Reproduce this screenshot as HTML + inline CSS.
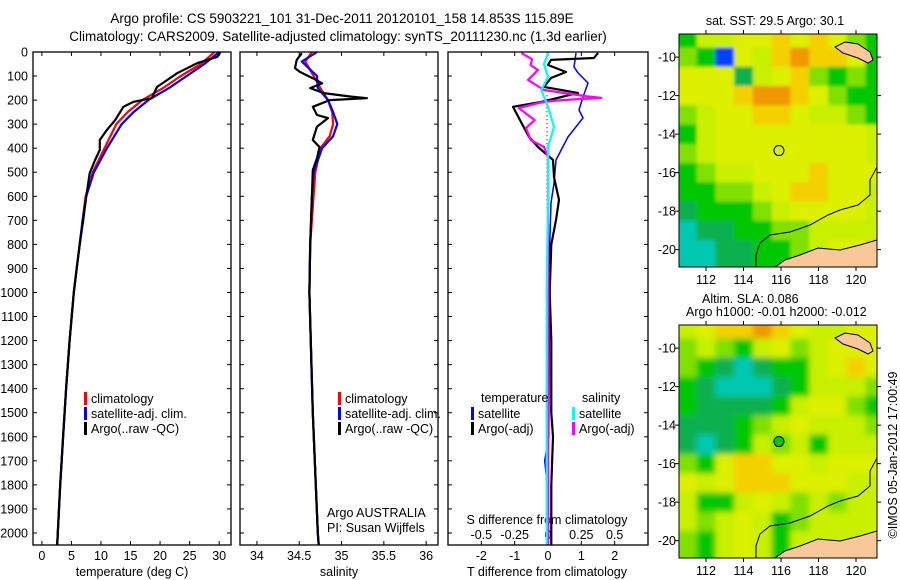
<!DOCTYPE html>
<html><head><meta charset="utf-8"><style>
body{margin:0;background:#fff}
svg{display:block;font-family:"Liberation Sans",sans-serif;font-size:12.5px}
</style></head><body>
<svg id="s" width="900" height="580" viewBox="0 0 900 580">
<defs><filter id="blur" x="-5%" y="-5%" width="110%" height="110%"><feGaussianBlur stdDeviation="3"/></filter>
<filter id="blur2" x="-5%" y="-5%" width="110%" height="110%"><feGaussianBlur stdDeviation="1.5"/></filter></defs>
<text x="342" y="23" text-anchor="middle" font-size="13.5">Argo profile: CS 5903221_101 31-Dec-2011 20120101_158 14.853S 115.89E</text>
<text x="338" y="41" text-anchor="middle" font-size="13.5">Climatology: CARS2009. Satellite-adjusted climatology: synTS_20111230.nc (1.3d earlier)</text>
<text x="775" y="25" text-anchor="middle">sat. SST: 29.5 Argo: 30.1</text>
<text x="702" y="303">Altim. SLA: 0.086</text>
<text x="686" y="316">Argo h1000: -0.01 h2000: -0.012</text>
<text transform="translate(897,455) rotate(-90)" text-anchor="middle">©IMOS 05-Jan-2012 17:00:49</text>
<text x="132" y="576" text-anchor="middle">temperature (deg C)</text>
<text x="339" y="576" text-anchor="middle">salinity</text>
<text x="547" y="576" text-anchor="middle">T difference from climatology</text>
<text x="547" y="524" text-anchor="middle">S difference from climatology</text>
<text x="327" y="517">Argo AUSTRALIA</text>
<text x="327" y="532">PI: Susan Wijffels</text>
</svg>
<script>
// ---------- data ----------
const depthTicks=[0,100,200,300,400,500,600,700,800,900,1000,1100,1200,1300,1400,1500,1600,1700,1800,1900,2000];
const tempTicks=[0,5,10,15,20,25,30];
const salTicks=[34,34.5,35,35.5,36];
const tdiffTicks=[-2,-1,0,1,2];
const sdiffTicks=[-0.5,-0.25,0,0.25,0.5];
const sdiffLabels=["-0.5","-0.25","0","0.25","0.5"];

const argoTD=[0,20,46,88,145,192,207,228,283,324,366,407,449,504,602,700,800,900,1000,1200,1400,1600,1800,2000,2050];
const argoT=[30.2,29.7,26.3,22.9,19.5,18.6,15.5,13.8,12.4,11.0,9.8,9.8,9.0,8.1,7.5,7.0,6.4,5.9,5.4,4.7,4.1,3.6,3.1,2.7,2.6];
const climD=[0,50,100,150,200,250,300,400,500,600,700,800,900,1000,1200,1400,1600,1800,2000,2050];
const climT=[29.2,26.9,23.5,20.5,17,14.5,12.6,10.6,8.6,7.4,6.9,6.4,5.9,5.4,4.7,4.1,3.6,3.1,2.7,2.6];
const satT=[30,27.5,24.5,21.5,18,15.5,13.5,11,8.8,7.5,6.9,6.4,5.9,5.4,4.7,4.1,3.6,3.1,2.7,2.6];

const argoSD=[5,33,67,83,109,130,150,171,185,192,200,228,262,275,310,366,395,442,491,602,800,1000,1500,2000,2050];
const argoS=[34.53,34.47,34.45,34.51,34.66,34.77,34.63,34.79,35.1,35.3,34.86,34.66,34.71,34.84,34.71,34.66,34.74,34.71,34.66,34.65,34.63,34.62,34.66,34.72,34.73];
const salD=[0,40,100,150,200,250,300,350,400,500,600,800,1000,1500,2000,2050];
const climS=[34.65,34.57,34.67,34.75,34.84,34.89,34.9,34.86,34.75,34.69,34.67,34.63,34.62,34.66,34.72,34.73];
const satS=[34.71,34.53,34.71,34.72,34.84,34.9,34.95,34.9,34.77,34.67,34.65,34.63,34.62,34.66,34.72,34.73];

const satTdD=[4,62,87,129,187,241,274,353,449,545,628,800,1200,1600,1700,1800,2050];
const satTd=[0.84,0.78,0.9,1.2,1.05,0.93,1.05,0.6,0.24,0.18,0.09,0.05,0.04,0.02,-0.1,-0.02,0];
const argoTdD=[4,25,33,54,83,108,145,170,208,228,291,353,395,449,520,615,699,800,1000,1200,1500,1600,1800,2050];
const argoTd=[1.5,1.38,0.09,0,0.54,0.09,-0.12,0.9,-0.21,-1.05,-0.81,-0.57,-0.3,0.15,0.18,0.33,0.24,0.1,0.05,0.1,0.1,0.15,0.1,0.1];
const argoSdD=[4,30,55,75,116,158,185,191,200,208,233,283,316,366,395,437,600,1000,2050];
const argoSd=[-0.2,-0.12,-0.13,-0.075,-0.15,-0.03,0.3,0.4,0.1,-0.04,-0.22,-0.1,-0.165,-0.13,-0.03,0,0,0,0];
const satSdD=[4,50,104,158,228,312,395,600,1000,1500,2050];
const satSd=[0,-0.03,0,-0.05,0,0.045,0,0,-0.01,-0.01,-0.01];

const mapLons=[111,112,113,114,115,116,117,118,119,120,121];
const mapLats=[-9,-10,-11,-12,-13,-14,-15,-16,-17,-18,-19,-20,-21];
const sstGrid=[
[5,7,7,8,8,9,8,9,8,6,5],[6,5,1,8,7,9,10,9,9,8,5],[8,8,8,4,7,8,9,6,5,6,5],
[8,8,8,9,10,10,9,8,6,5,5],[6,7,8,8,9,9,8,7,7,6,5],[5,7,8,8,8,8,8,8,8,8,7],
[6,7,8,8,8,8,8,8,8,8,7],[5,6,7,7,8,8,8,9,8,8,8],[5,5,6,6,7,8,9,9,8,8,7],
[4,5,5,5,6,7,8,8,8,8,7],[3,4,4,5,5,6,6,7,7,7,7],[3,3,4,4,5,5,6,7,8,8,9],[3,3,4,4,5,5,6,7,8,8,9]];
const slaGrid=[
[7,8,9,9,10,9,8,7,7,8,8],[6,7,6,5,7,8,6,7,8,8,8],[6,5,4,3,4,5,5,7,8,9,8],
[5,4,3,3,3,4,5,7,7,7,6],[5,4,4,4,4,5,7,8,8,6,5],[4,4,4,5,6,7,8,7,7,7,6],
[4,3,4,5,7,6,7,5,7,7,7],[6,5,8,9,9,8,8,7,8,8,8],[8,7,8,9,9,9,8,8,8,7,7],
[7,5,5,7,8,7,6,7,6,7,7],[7,6,7,8,7,5,6,7,7,7,7],[6,5,7,8,7,5,7,7,7,7,8],[6,5,7,8,7,5,7,7,7,7,8]];
const colorMap=["#00008b","#0040ff","#0090ff","#00c8b0","#10b050","#00c800","#80e000","#c8f000","#dcf000","#f4d000","#f09800","#d04000"];
const argoLon=115.89, argoLat=-14.853;

// ---------- helpers ----------
const S=document.getElementById('s');const NS="http://www.w3.org/2000/svg";
function mk(t,a,p){const e=document.createElementNS(NS,t);for(const k in a)e.setAttribute(k,a[k]);(p||S).appendChild(e);return e;}
const top0=52,bot0=545;
const yD=d=>top0+d*(bot0-top0)/2050;
function lin(d0,d1,r0,r1){return v=>r0+(v-d0)*(r1-r0)/(d1-d0);}
const panels=[
 {x0:33,x1:231,f:lin(-1.5,32,33,231),name:'temperature-panel'},
 {x0:240,x1:438,f:lin(33.8,36.14,240,438),name:'salinity-panel'},
 {x0:448,x1:648,f:lin(-3,3,448,648),name:'difference-panel'}];
const fS=lin(-0.75,0.75,448,648);

depthTicks.forEach(d=>{const t=mk('text',{x:28,y:yD(d)+4.5,'text-anchor':'end'});t.textContent=d;

});

panels.forEach((p,i)=>{
 const g=mk('g',{});
 
 
 p.g=g;
 depthTicks.forEach(d=>{mk('line',{x1:p.x0,x2:p.x0+4,y1:yD(d),y2:yD(d),stroke:'#000'},g);mk('line',{x1:p.x1,x2:p.x1-4,y1:yD(d),y2:yD(d),stroke:'#000'},g);});
});
function xTicks(p,ticks,f,labels,ly){ticks.forEach((v,i)=>{const x=f(v);
 mk('line',{x1:x,x2:x,y1:bot0,y2:bot0-4,stroke:'#000'},p.g);mk('line',{x1:x,x2:x,y1:top0,y2:top0+4,stroke:'#000'},p.g);
 const t=mk('text',{x:x,y:ly,'text-anchor':'middle'},p.g);t.textContent=labels?labels[i]:v;
 
 });}
xTicks(panels[0],tempTicks,panels[0].f,null,560);
xTicks(panels[1],salTicks,panels[1].f,null,560);
xTicks(panels[2],tdiffTicks,panels[2].f,null,560);
sdiffTicks.forEach((v,i)=>{const t=mk('text',{x:fS(v),y:539,'text-anchor':'middle'},panels[2].g);t.textContent=sdiffLabels[i];
 
 });

function series(p,D,V,f,col,name,w){
 const pts=D.map((d,i)=>f(V[i]).toFixed(1)+','+yD(d).toFixed(1)).join(' ');
 const l=mk('polyline',{points:pts,fill:'none',stroke:col,'stroke-width':w||2.2,'stroke-linejoin':'round'},p.g);
 
 }
mk('line',{x1:547,x2:547,y1:yD(180),y2:yD(650),stroke:'#000','stroke-dasharray':'1,3'},panels[2].g);
series(panels[0],climD,climT,panels[0].f,'#f00','climatology-temp-line');
series(panels[0],climD,satT,panels[0].f,'#00f','satellite-temp-line');
series(panels[0],argoTD,argoT,panels[0].f,'#000','argo-temp-line');
series(panels[1],salD,climS,panels[1].f,'#f00','climatology-sal-line');
series(panels[1],salD,satS,panels[1].f,'#00f','satellite-sal-line');
series(panels[1],argoSD,argoS,panels[1].f,'#000','argo-sal-line');
series(panels[2],satTdD,satTd,panels[2].f,'#00f','sat-tdiff-line',1.5);
series(panels[2],argoTdD,argoTd,panels[2].f,'#000','argo-tdiff-line');
series(panels[2],argoSdD,argoSd,fS,'#f0f','argo-sdiff-line');
series(panels[2],satSdD,satSd,fS,'#0ff','sat-sdiff-line');
panels.forEach(p=>{mk('rect',{x:p.x0,y:top0,width:p.x1-p.x0,height:bot0-top0,fill:'none',stroke:'#000','stroke-width':1.3},p.g);});

function legend(x,y,items,g){items.forEach((it,i)=>{const yy=y+i*15;
 mk('rect',{x:x,y:yy-10,width:3,height:13,fill:it[1]},g);
 const t=mk('text',{x:x+7,y:yy+1},g);t.textContent=it[0];
 
 });}
const L=[['climatology','#f00'],['satellite-adj. clim.','#00f'],['Argo(..raw -QC)','#000']];
legend(84,402,L,panels[0].g);legend(338,402,L,panels[1].g);
legend(471,417,[['satellite','#00f'],['Argo(-adj)','#000']],panels[2].g);
legend(572,417,[['satellite','#0ff'],['Argo(-adj)','#f0f']],panels[2].g);
[['temperature',481],['salinity',582]].forEach(a=>{const t=mk('text',{x:a[1],y:402},panels[2].g);t.textContent=a[0];
 
 });

// ---------- maps ----------
function drawMap(top,grid,name,filled,flt){
 const x0=679,x1=877,bot=top+233;
 const fx=lin(110.56,121.12,x0,x1), fy=lin(-8.8,-20.9,top,bot);
 const g=mk('g',{});
 
 
 const cid='clip'+top;const cp=mk('clipPath',{id:cid},g);mk('rect',{x:x0,y:top,width:x1-x0,height:bot-top},cp);
 const cg=mk('g',{'clip-path':'url(#'+cid+')'},g);
 const fg=mk('g',{filter:'url(#'+flt+')'},cg);
 mapLats.forEach((la,r)=>mapLons.forEach((lo,c)=>{
  const a=fx(lo-0.5),b=fy(la+0.5);
  const ww=fx(lo+0.5)-a+0.5, hh=fy(la-0.5)-b+0.5;
  const cell=mk('rect',{x:c===0?a-12:a,y:r===0?b-12:b,width:ww+(c===0||c===10?12:0),height:hh+(r===0||r===12?12:0),fill:colorMap[grid[r][c]]},fg);
  
  }));
 const o=top-34;
 mk('polygon',{points:`877,${240+o} 860,${245+o} 840,${250+o} 818,${248+o} 800,${255+o} 785,${260+o} 775,${267+o} 877,${267+o}`,fill:'#f8c898',stroke:'#000','stroke-width':1},cg);
 mk('polygon',{points:`835,${47+o} 845,${42+o} 858,${44+o} 870,${52+o} 873,${60+o} 868,${63+o} 858,${58+o} 843,${53+o}`,fill:'#f8c898',stroke:'#000','stroke-width':1},cg);
 mk('polyline',{points:`877,${167+o} 870,${180+o} 870,${195+o} 858,${205+o} 840,${210+o} 828,${215+o} 810,${225+o} 790,${232+o} 770,${235+o} 760,${243+o} 756,${255+o} 756,${267+o}`,fill:'none',stroke:'#000','stroke-width':1},cg);
 const m=mk('circle',{cx:fx(argoLon),cy:fy(argoLat),r:5,fill:filled?'#00c800':'none',stroke:'#000','stroke-width':1},g);
 
 
 mk('rect',{x:x0,y:top,width:x1-x0,height:bot-top,fill:'none',stroke:'#000'},g);
 [112,114,116,118,120].forEach(lo=>{const x=fx(lo);mk('line',{x1:x,x2:x,y1:top,y2:top-4,stroke:'#000'},g);mk('line',{x1:x,x2:x,y1:bot,y2:bot+4,stroke:'#000'},g);
  const t=mk('text',{x:x,y:bot+17,'text-anchor':'middle'},g);t.textContent=lo;
  
  });
 [-10,-12,-14,-16,-18,-20].forEach(la=>{const y=fy(la);mk('line',{x1:x0,x2:x0-4,y1:y,y2:y,stroke:'#000'},g);mk('line',{x1:x1,x2:x1+4,y1:y,y2:y,stroke:'#000'},g);
  const t=mk('text',{x:676,y:y+4.5,'text-anchor':'end'},g);t.textContent='-'+(-la);
  
  });
}
drawMap(34,sstGrid,'sst-map',false,'blur2');
drawMap(325,slaGrid,'sla-map',true,'blur');
</script>
</body></html>
